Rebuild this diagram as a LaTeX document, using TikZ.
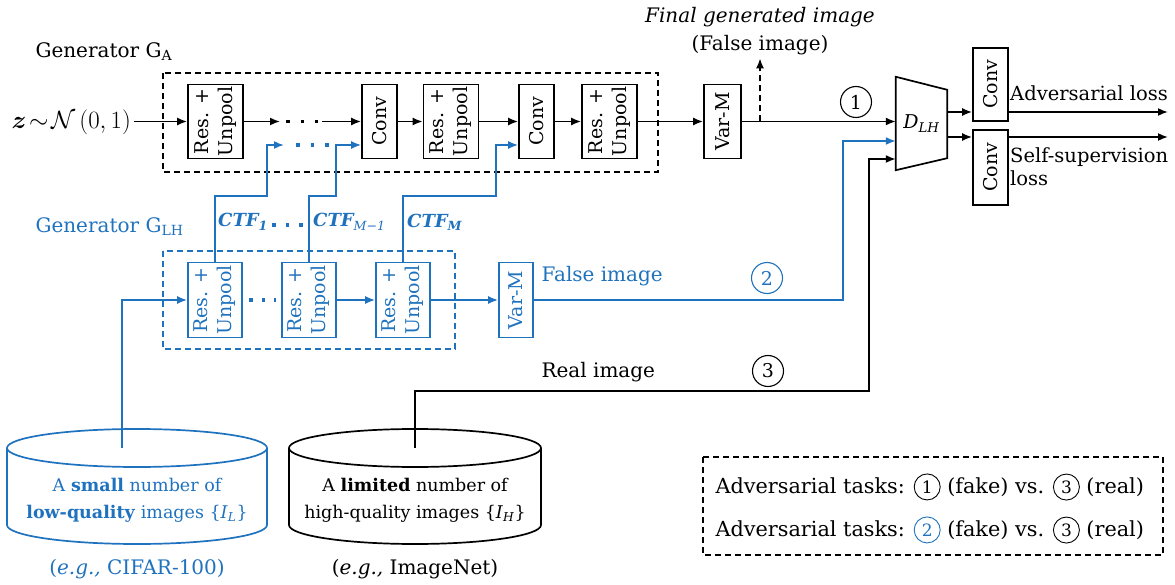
\documentclass[tikz,border=0pt]{standalone}
\usepackage{bm}
\usepackage{fontspec}
\setmainfont{DejaVu Serif}
\usetikzlibrary{arrows.meta,calc}
\definecolor{blu}{RGB}{31,114,190}
\newcommand{\RU}{\rotatebox{90}{\begin{tabular}{@{}c@{}}Res. +\\Unpool\end{tabular}}}
\newcommand{\circnum}[2][black]{\tikz[baseline=(cn.base)]\node[draw=#1,text=#1,circle,line width=0.9pt,inner sep=0pt,minimum size=26pt,font=\fontsize{17}{19}\selectfont](cn){#2};}
\newcommand{\ctf}[1]{{\bfseries\itshape CTF\textsubscript{#1}}}
\begin{document}
\begin{tikzpicture}[x=1pt,y=-1pt,
  every node/.style={font=\fontsize{20}{24}\selectfont},
  box/.style={draw,line width=1.7pt,inner sep=0pt,align=center,font=\fontsize{19}{24}\selectfont},
  ru/.style={box,minimum width=55pt,minimum height=74pt},
  bru/.style={ru,draw=blu,text=blu,minimum width=54pt,minimum height=75pt},
  cv/.style={box,minimum width=35pt,minimum height=74pt},
  arr/.style={-{Latex[length=10pt,width=8pt]},line width=1.7pt},
  dbox/.style={line width=1.3pt,dash pattern=on 6pt off 4pt},
  numc/.style={draw,circle,line width=1.1pt,inner sep=0pt,minimum size=31pt,font=\fontsize{19}{21}\selectfont},
  dots/.style={line width=3.5pt,dash pattern=on 3.5pt off 11pt},
  ctfl/.style={anchor=west,text=blu,inner sep=2pt,font=\fontsize{18}{22}\selectfont},
]
\useasboundingbox (0,0) rectangle (1175,585);

% ---------- Generator G_A ----------
\node[anchor=west] (gA) at (32,52) {Generator G\textsubscript{A}};
\node[anchor=west,font=\fontsize{24}{27}\selectfont] (z) at (8,122) {$\bm{z}\!\sim\!\mathcal{N}\,(0,1)$};
\node[ru] (b1) at (215.5,121.5) {\RU};
\node[cv] (c1) at (379.5,121.5) {\rotatebox{90}{Conv}};
\node[ru] (b2) at (451,121.5) {\RU};
\node[cv] (c2) at (536.5,121.5) {\rotatebox{90}{Conv}};
\node[ru] (b3) at (609.5,121.5) {\RU};
\node[box,minimum width=37pt,minimum height=74pt] (v1) at (722.5,121.5) {\rotatebox{90}{Var-M}};
\draw[dbox] (163,73) rectangle (658,172);

\draw[arr] (z.east |- b1.west) -- (b1.west);
\coordinate (k1) at (280,121.5);
\coordinate (k2) at (322,121.5);
\draw[arr] (b1.east) -- (k1);
\draw[dots] (286,121.5) -- (318,121.5);
\draw[arr] (k2) -- (c1.west);
\draw[arr] (c1.east) -- (b2.west);
\draw[arr] (b2.east) -- (c2.west);
\draw[arr] (c2.east) -- (b3.west);
\draw[arr] (b3.east) -- (v1.west);

% ---------- Discriminator ----------
\node[inner sep=0pt,minimum width=51pt,minimum height=93pt,font=\fontsize{19}{22}\selectfont] (D) at (921.5,123.5) {\textit{D}\textsubscript{\textit{LH}}};
\draw[line width=1.7pt] (D.north west) -- ([yshift=-13pt]D.north east) -- ([yshift=12pt]D.south east) -- (D.south west) -- cycle;
\draw[arr] (v1.east) -- (v1.east -| D.west);

\node (fgt) at (760,17) {\textit{Final generated image}};
\node (fgi) at (760,45) {(False image)};
\coordinate (fg) at (760,121.5);
\draw[arr,dash pattern=on 6pt off 4pt] (fg) -- (fg |- fgi.south);
\node[numc] (n1) at (856,102) {1};

\node[cv,minimum height=73pt] (cva) at (990.5,84.5) {\rotatebox{90}{Conv}};
\node[cv,minimum height=75pt] (cvb) at (990.5,167.5) {\rotatebox{90}{Conv}};
\coordinate (y112) at (0,112);
\coordinate (y137) at (0,137);
\draw[arr] (D.east |- y112) -- (cva.west |- y112);
\draw[arr] (D.east |- y137) -- (cvb.west |- y137);
\coordinate (o1) at (1168,112);
\coordinate (o2) at (1168,137);
\draw[arr] (cva.east |- o1) -- (o1);
\draw[arr] (cvb.east |- o2) -- (o2);
\node[anchor=west,inner sep=2pt,font=\fontsize{19.5}{23}\selectfont] (adv) at (1008,93) {Adversarial loss};
\node[anchor=north west,align=left,inner sep=2pt,font=\fontsize{19.5}{23}\selectfont] (ssl) at (1008,145) {Self-supervision\\loss};

% ---------- Generator G_LH ----------
\node[anchor=west,text=blu] (gL) at (32,227) {Generator G\textsubscript{LH}};
\node[bru] (ba) at (215,300) {\RU};
\node[bru] (bb) at (309,300) {\RU};
\node[bru] (bc) at (403,300) {\RU};
\node[box,draw=blu,text=blu,minimum width=34pt,minimum height=75pt] (v2) at (516,300) {\rotatebox{90}{Var-M}};
\draw[dbox,blu] (163,251) rectangle (455,349);

\coordinate (cA) at (122,448);
\draw[arr,blu] (cA) |- (ba.west);
\draw[blu,line width=3.5pt,dash pattern=on 3.5pt off 9pt] (249,300) -- (276,300);
\draw[arr,blu] (bb.east) -- (bc.west);
\draw[arr,blu] (bc.east) -- (v2.west);
\coordinate (bt) at (843,141);
\draw[arr,blu] (v2.east) -| (bt) -- (bt -| D.west);
\node[anchor=west,text=blu] (fi) at (538,276) {False image};
\node[numc,draw=blu,text=blu] (n2) at (767,278) {2};

% CTF connections
\coordinate (ys) at (0,145);
\draw[arr,blu] (ba.north) |- (267,196) |- (284,145);
\draw[dots,blu] (296,145) -- (330,145);
\draw[arr,blu] (bb.north) |- (336,196) |- (c1.west |- ys);
\draw[arr,blu] (bc.north) |- (496,196) |- (c2.west |- ys);
\node[ctfl] (t1) at (216,222) {\ctf{1}};
\draw[blu,line width=3.5pt,dash pattern=on 3.5pt off 10pt] (272,225) -- (304,225);
\node[ctfl] (t2) at (311,222) {\ctf{{\mdseries M−1}}};
\node[ctfl] (t3) at (405,222) {\ctf{M}};

% ---------- Real image path ----------
\coordinate (cB) at (415,448);
\coordinate (rt) at (869,159);
\coordinate (yr) at (0,391);
\draw[arr] (cB) |- (yr -| rt) -- (rt) -- (rt -| D.west);
\node[anchor=west] (ri) at (538,372) {Real image};
\node[numc] (n3) at (768,371) {3};

% ---------- Cylinders ----------
\draw[blu,line width=1.7pt] (137,448) ellipse [x radius=130pt,y radius=19pt];
\draw[blu,line width=1.7pt] (7,448) -- (7,525) arc[start angle=180,end angle=360,x radius=130pt,y radius=19pt] -- (267,448);
\node[text=blu,align=center,font=\fontsize{17.5}{27}\selectfont] (tA) at (137,500) {A \textbf{small} number of\\\textbf{low-quality} images \{\textit{I}\textsubscript{\textit{L}}\}};
\node[text=blu] (eA) at (137,569) {(\textit{e.g.,} CIFAR-100)};

\draw[line width=1.7pt] (415,448) ellipse [x radius=126pt,y radius=19pt];
\draw[line width=1.7pt] (289,448) -- (289,525) arc[start angle=180,end angle=360,x radius=126pt,y radius=19pt] -- (541,448);
\node[align=center,font=\fontsize{17.5}{27}\selectfont] (tB) at (415,500) {A \textbf{limited} number of\\high-quality images \{\textit{I}\textsubscript{\textit{H}}\}};
\node (eB) at (415,569) {(\textit{e.g.,} ImageNet)};

% ---------- Legend ----------
\draw[dbox] (703,457) rectangle (1163,555);
\node[anchor=west,font=\fontsize{20.8}{24}\selectfont] (L1) at (712,487) {Adversarial tasks: \circnum{1} (fake) vs. \circnum{3} (real)};
\node[anchor=west,font=\fontsize{20.8}{24}\selectfont] (L2) at (712,530) {Adversarial tasks: \circnum[blu]{2} (fake) vs. \circnum{3} (real)};
\end{tikzpicture}
\end{document}
